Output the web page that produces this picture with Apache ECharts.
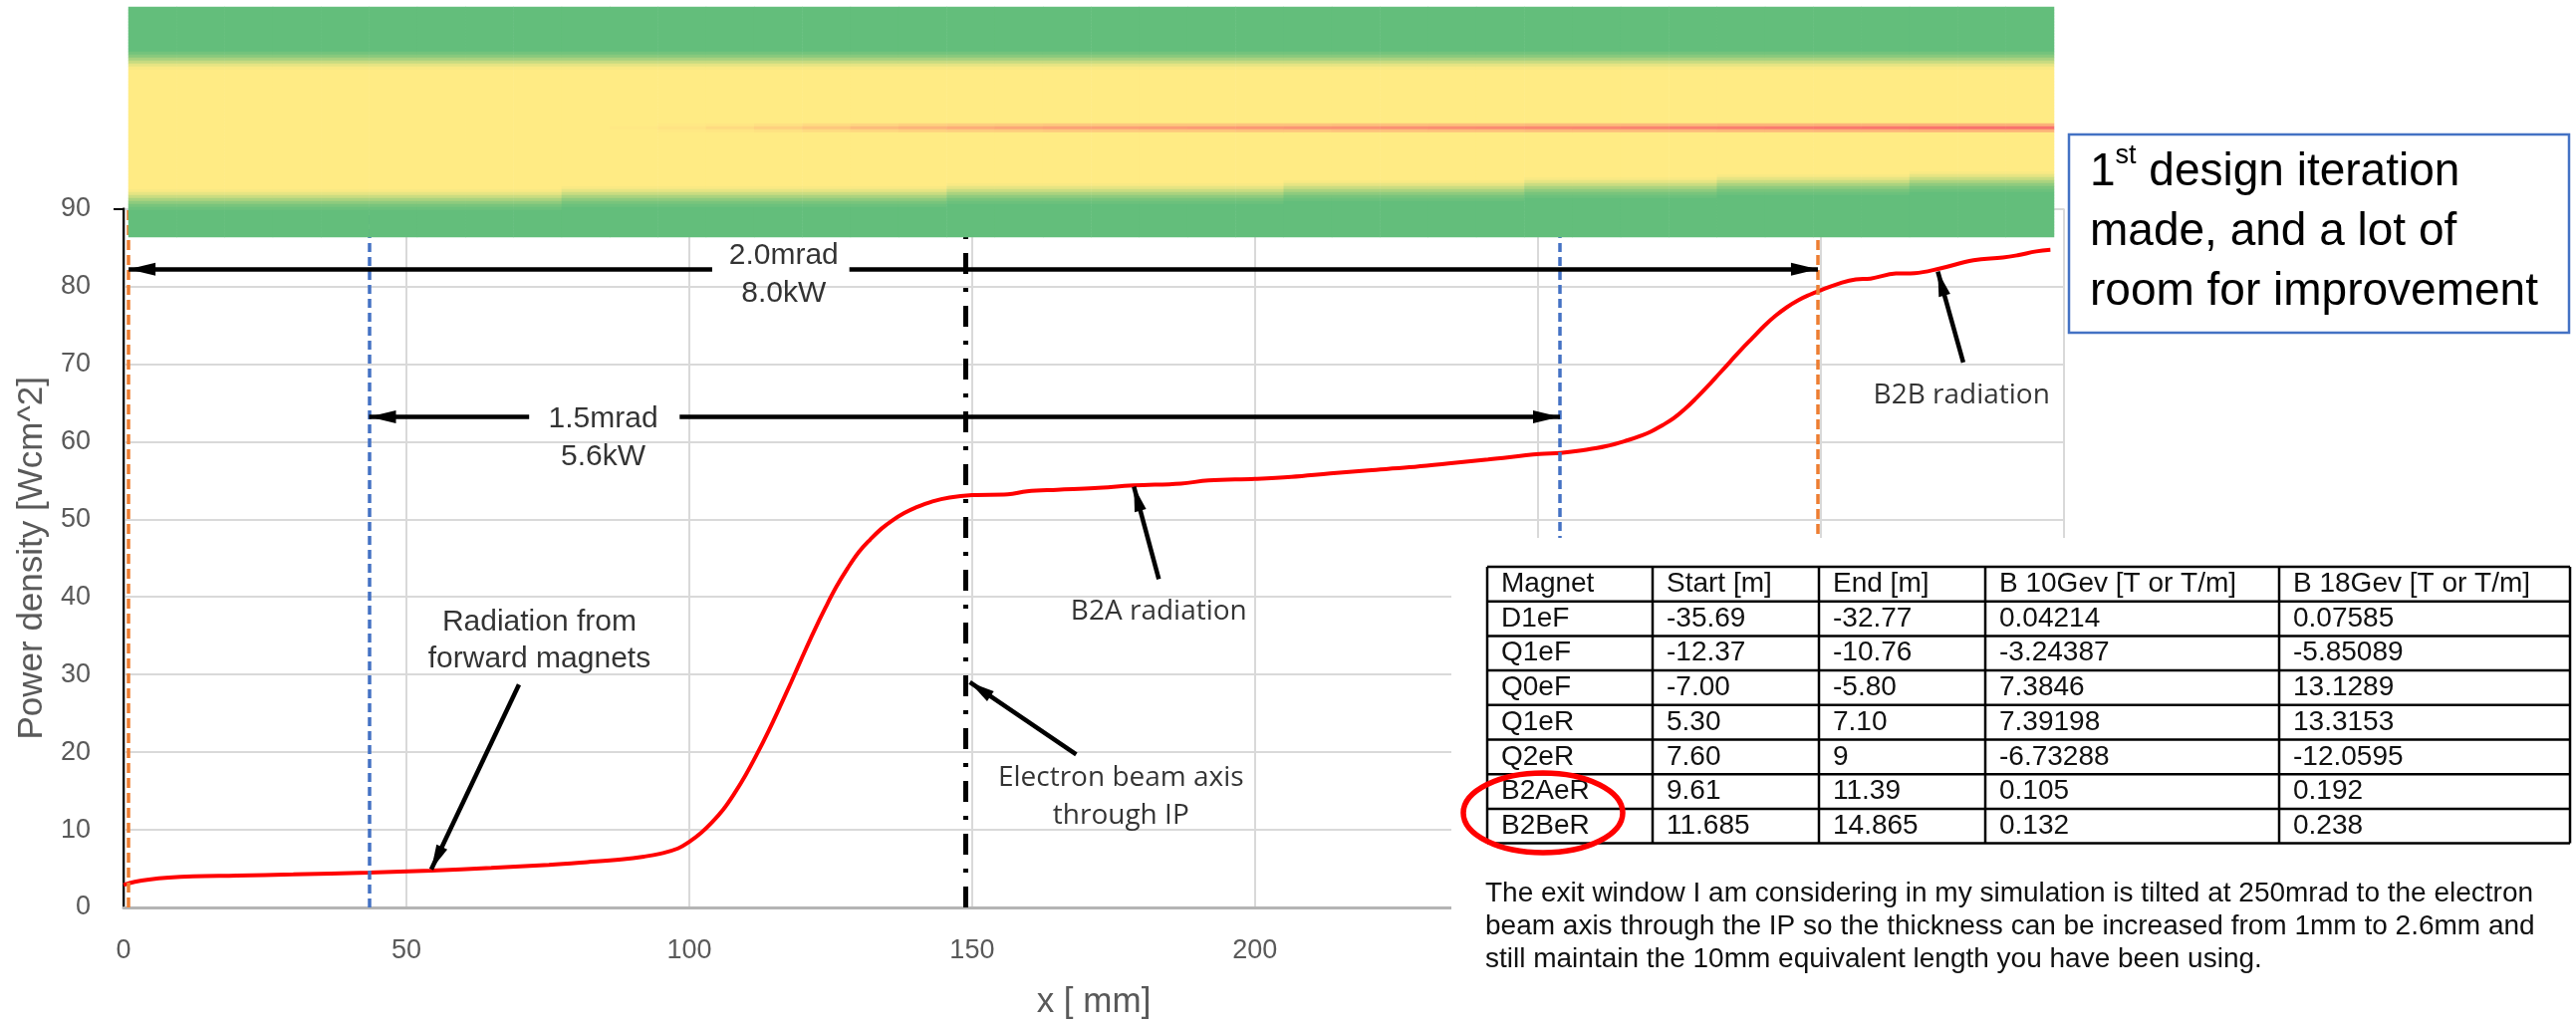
<!DOCTYPE html>
<html>
<head>
<meta charset="utf-8">
<script src="https://cdn.jsdelivr.net/npm/echarts@6/dist/echarts.min.js"></script>
<style>
html,body{margin:0;padding:0;background:#ffffff;}
#chart{width:2586px;height:1029px;}
</style>
</head>
<body>
<div id="chart"></div>
<script>
// ---------------- data ----------------
const xPositions = [0,2,4.5,8,12.3,20,30,43.4,54.4,65,75.2,82,88,92,95,98,100,102,104,106,108,110,112,114,116,118,120,122,124,126,128,130,132,134,136,138,140,143,146,150,156.3,159.7,165,171.6,178.5,186.9,191.8,200,206.4,213.3,220,227.3,234.2,241.2,250.3,254,258,262,266,268,270,272,274,276,278,280,282,284,286,288,290,292,294,296,298,300,303,306.2,308.8,313.3,316.6,321.1,327,332.2,334.8,338.1,340.6];
const powerDensity = [2.9,3.3,3.6,3.85,4.0,4.1,4.25,4.5,4.75,5.1,5.5,5.85,6.2,6.55,6.95,7.6,8.45,9.55,10.95,12.6,14.7,17.1,19.8,22.7,25.8,29.0,32.3,35.5,38.5,41.3,43.7,45.8,47.4,48.8,49.9,50.8,51.5,52.3,52.8,53.1,53.2,53.6,53.8,54.0,54.35,54.6,55.0,55.2,55.45,55.9,56.3,56.7,57.2,57.7,58.4,58.55,58.9,59.4,60.2,60.7,61.3,62.1,63.0,64.2,65.6,67.1,68.7,70.3,71.9,73.4,74.9,76.2,77.3,78.2,78.9,79.5,80.3,80.9,81.0,81.65,81.7,82.3,83.35,83.7,84.0,84.5,84.7];

// vertical guide lines (x in mm)
const guideLines = [
  {x: 0.9, kind: 'orange'},
  {x: 299.5, kind: 'orange'},
  {x: 43.4, kind: 'blue'},
  {x: 253.9, kind: 'blue'},
  {x: 148.9, kind: 'beam'}
];

// double-headed span arrows with text gap
const spanArrows = [
  {text: '2.0mrad\n8.0kW', y: 82.2, from: 0.9, to: 299.5, gapFrom: 104.05, gapTo: 128.3, textX: 116.7, textY: 81.5},
  {text: '1.5mrad\n5.6kW', y: 63.2, from: 43.4, to: 253.9, gapFrom: 71.7, gapTo: 98.3, textX: 84.8, textY: 60.4}
];

// pointer annotations
const pointerNotes = [
  {text: 'Radiation from\nforward magnets', font: 'calibri', textX: 73.5, textY: 34.4, from: [69.9, 28.7], to: [54.4, 4.9]},
  {text: 'B2A radiation', font: 'segoe', textX: 183.0, textY: 38.1, from: [183.0, 42.3], to: [178.6, 54.2]},
  {text: 'Electron beam axis\nthrough IP', font: 'segoe', textX: 176.3, textY: 14.3, from: [168.4, 19.7], to: [149.6, 29.0]},
  {text: 'B2B radiation', font: 'segoe', textX: 324.9, textY: 66.0, from: [325.2, 70.2], to: [320.7, 81.9]}
];

// heat-map strip: 0 = green, 0.5 = yellow, 1 = red
const HEAT_ROWS = 77;
const heatTopRamp = [0.05, 0.12, 0.22, 0.32, 0.42, 0.48];
const heatBottomRamp = [0.48, 0.42, 0.33, 0.23, 0.14, 0.07, 0.03];
const heatBottomStart = [61,61,61,61,61,61,61,61,61,60,60,60,60,60,60,60,60,59,59,59,59,59,59,59,58,58,58,58,58,57,57,57,57,56,56,56,56,55,55,55];
const heatLineCore = [0.5,0.5,0.5,0.5,0.5,0.5,0.5,0.5,0.5,0.5,0.51,0.53,0.56,0.6,0.64,0.68,0.71,0.74,0.76,0.78,0.79,0.8,0.81,0.82,0.83,0.84,0.85,0.86,0.87,0.88,0.89,0.9,0.91,0.92,0.93,0.94,0.95,0.96,0.97,0.97];
const heatLineGlow = [0.5,0.5,0.5,0.5,0.5,0.5,0.5,0.5,0.5,0.5,0.5,0.51,0.52,0.54,0.56,0.58,0.6,0.61,0.62,0.63,0.63,0.64,0.64,0.65,0.65,0.66,0.66,0.67,0.67,0.68,0.68,0.69,0.69,0.7,0.7,0.71,0.71,0.72,0.72,0.72];
const HEAT_TOP_START = 15;
const HEAT_LINE_ROW = 40;

// table + notes
const tableHeader = ['Magnet', 'Start [m]', 'End [m]', 'B 10Gev [T or T/m]', 'B 18Gev [T or T/m]'];
const tableRows = [
  ['D1eF', '-35.69', '-32.77', '0.04214', '0.07585'],
  ['Q1eF', '-12.37', '-10.76', '-3.24387', '-5.85089'],
  ['Q0eF', '-7.00', '-5.80', '7.3846', '13.1289'],
  ['Q1eR', '5.30', '7.10', '7.39198', '13.3153'],
  ['Q2eR', '7.60', '9', '-6.73288', '-12.0595'],
  ['B2AeR', '9.61', '11.39', '0.105', '0.192'],
  ['B2BeR', '11.685', '14.865', '0.132', '0.238']
];
const noteLines = [
  'The exit window I am considering in my simulation is tilted at 250mrad to the electron',
  'beam axis through the IP so the thickness can be increased from 1mm to 2.6mm and',
  'still maintain the 10mm equivalent length you have been using.'
];
const calloutText = '{n|1}{s|st}{n| design iteration}\n{n|made, and a lot of}\n{n|room for improvement}';

// ---------------- styling / layout ----------------
const F_CAL = 'Liberation Sans, Arial, sans-serif';
const F_SEG = 'Open Sans, Noto Sans, sans-serif';
const guideStyle = {
  orange: {color: '#ED7D31', width: 3.5, type: [10, 5]},
  blue: {color: '#4472C4', width: 3.5, type: [9, 5]},
  beam: {color: '#000000', width: 5, type: [21, 14, 4, 14]}
};

// heat data
const heatData = [];
for (let c = 0; c < heatLineCore.length; c++) {
  for (let r = 0; r < HEAT_ROWS; r++) {
    let v = 0;
    const bs = heatBottomStart[c];
    if (r >= HEAT_TOP_START && r < HEAT_TOP_START + heatTopRamp.length) v = heatTopRamp[r - HEAT_TOP_START];
    else if (r >= HEAT_TOP_START + heatTopRamp.length && r < bs) v = 0.5;
    else if (r >= bs && r < bs + heatBottomRamp.length) v = heatBottomRamp[r - bs];
    if (r === HEAT_LINE_ROW) v = heatLineCore[c];
    else if (r === HEAT_LINE_ROW - 1 || r === HEAT_LINE_ROW + 1) v = heatLineGlow[c];
    heatData.push([c, r, v]);
  }
}
const heatRowIdx = [];
for (let r = 0; r < HEAT_ROWS; r++) heatRowIdx.push(r);

// markLines
const arrowHead = (size) => ({symbol: 'triangle', symbolSize: size, symbolOffset: [0, '50%']});
const markLines = [];
guideLines.forEach(g => markLines.push({xAxis: g.x, lineStyle: guideStyle[g.kind], symbol: 'none'}));
spanArrows.forEach(a => {
  const ls = {color: '#000', width: 4.5, type: 'solid'};
  markLines.push([
    {coord: [a.gapFrom, a.y], symbol: 'none', lineStyle: ls},
    Object.assign({coord: [a.from, a.y], lineStyle: ls}, arrowHead([13, 27]))
  ]);
  markLines.push([
    {coord: [a.gapTo, a.y], symbol: 'none', lineStyle: ls},
    Object.assign({coord: [a.to, a.y], lineStyle: ls}, arrowHead([13, 27]))
  ]);
});
pointerNotes.forEach(p => {
  const ls = {color: '#000', width: 4.5, type: 'solid'};
  markLines.push([
    {coord: p.from, symbol: 'none', lineStyle: ls},
    Object.assign({coord: p.to, lineStyle: ls}, arrowHead([12, 25]))
  ]);
});

// annotation labels
const labelStyles = {
  calibri: {fontFamily: F_CAL, fontSize: 30, lineHeight: 37, color: '#000'},
  segoe: {fontFamily: F_SEG, fontSize: 28, lineHeight: 38, color: '#000'}
};
const annoData = [];
spanArrows.forEach(a => annoData.push({value: [a.textX, a.textY], name: a.text, label: Object.assign({}, labelStyles.calibri, {lineHeight: 38})}));
pointerNotes.forEach(p => annoData.push({value: [p.textX, p.textY], name: p.text, label: Object.assign({}, labelStyles[p.font])}));

// graphics (table, notes, callout)
const COL_EDGES = [1493, 1659, 1826, 1993, 2288, 2580];
const T_TOP = 569, T_ROW_H = 34.7;
const graphics = [];
graphics.push({type: 'rect', shape: {x: 1457, y: 540, width: 1129, height: 489}, style: {fill: '#ffffff'}, z: 50, silent: true});
const allRows = [tableHeader].concat(tableRows);
allRows.forEach((row, ri) => {
  row.forEach((cell, ci) => {
    graphics.push({type: 'text', x: COL_EDGES[ci] + 14, y: T_TOP + T_ROW_H * (ri + 0.5), z: 52, silent: true,
      style: {text: cell, fontFamily: F_CAL, fontSize: 28, fill: '#111', align: 'left', verticalAlign: 'middle'}});
  });
});
for (let i = 0; i <= allRows.length; i++) {
  const y = T_TOP + T_ROW_H * i;
  graphics.push({type: 'line', z: 53, silent: true, shape: {x1: COL_EDGES[0], y1: y, x2: COL_EDGES[COL_EDGES.length - 1], y2: y}, style: {stroke: '#000', lineWidth: 2.5}});
}
COL_EDGES.forEach(x => graphics.push({type: 'line', z: 53, silent: true, shape: {x1: x, y1: T_TOP, x2: x, y2: T_TOP + T_ROW_H * allRows.length}, style: {stroke: '#000', lineWidth: 2.5}}));
graphics.push({type: 'ellipse', z: 55, silent: true, shape: {cx: 1549, cy: 816, rx: 80, ry: 40}, style: {fill: 'none', stroke: '#FF0000', lineWidth: 5.5}});
graphics.push({type: 'text', x: 1491, y: 881, z: 52, silent: true,
  style: {text: noteLines.join('\n'), fontFamily: F_CAL, fontSize: 28, lineHeight: 33, fill: '#111', align: 'left', verticalAlign: 'top'}});
graphics.push({type: 'rect', z: 50, silent: true, shape: {x: 2077, y: 135, width: 502, height: 199}, style: {fill: '#ffffff', stroke: '#4472C4', lineWidth: 2.5}});
graphics.push({type: 'text', x: 2098, y: 143, z: 52, silent: true,
  style: {text: calloutText, align: 'left', verticalAlign: 'top',
    rich: {n: {fontFamily: F_CAL, fontSize: 46, lineHeight: 60, fill: '#000'},
           s: {fontFamily: F_CAL, fontSize: 27, lineHeight: 44, verticalAlign: 'top', fill: '#000'}}}});

// ---------------- chart ----------------
const chart = echarts.init(document.getElementById('chart'), null, {renderer: 'canvas'});
const tickLabel = {color: '#595959', fontSize: 27, fontFamily: F_CAL};
const option = {
  animation: false,
  backgroundColor: '#ffffff',
  grid: [
    {left: 124, right: 514, top: 209.5, bottom: 113},
    {left: 129, top: 7, width: 1933, height: 231}
  ],
  xAxis: [
    {type: 'value', gridIndex: 0, min: 0, max: 343, interval: 50,
      axisLine: {show: true, onZero: false, lineStyle: {color: '#B4B4B4', width: 3}},
      axisTick: {show: false},
      splitLine: {show: true, lineStyle: {color: '#D9D9D9', width: 2}},
      axisLabel: Object.assign({margin: 30, showMaxLabel: false}, tickLabel),
      name: 'x [ mm]', nameLocation: 'middle', nameGap: 78,
      nameTextStyle: {color: '#595959', fontSize: 35, fontFamily: F_CAL}},
    {type: 'category', gridIndex: 1, data: heatLineCore.map((v, i) => i), show: false}
  ],
  yAxis: [
    {type: 'value', gridIndex: 0, min: 0, max: 90, interval: 10,
      axisLine: {show: true, onZero: false, lineStyle: {color: '#B4B4B4', width: 3}},
      axisTick: {show: false},
      splitLine: {show: true, lineStyle: {color: '#D9D9D9', width: 2}},
      axisLabel: Object.assign({margin: 33}, tickLabel),
      name: 'Power density [Wcm^2]', nameLocation: 'middle', nameGap: 74,
      nameTextStyle: {color: '#595959', fontSize: 35, fontFamily: F_CAL}},
    {type: 'value', gridIndex: 0, position: 'right', min: 0, max: 90, interval: 10,
      axisLine: {show: true, lineStyle: {color: '#000', width: 2}},
      axisTick: {show: true, inside: true, length: 10, customValues: [90], lineStyle: {color: '#000', width: 2}},
      axisLabel: {show: false}, splitLine: {show: false}},
    {type: 'category', gridIndex: 1, inverse: true, data: heatRowIdx, show: false}
  ],
  visualMap: {type: 'continuous', show: false, seriesIndex: 0, dimension: 2, min: 0, max: 1,
    inRange: {color: ['#63BE7B', '#FFEB84', '#F8696B']}},
  series: [
    {type: 'heatmap', name: 'strip', xAxisIndex: 1, yAxisIndex: 2, data: heatData, z: 10, silent: true, progressive: 0,
      itemStyle: {borderWidth: 0}},
    {type: 'line', name: 'Power density', xAxisIndex: 0, yAxisIndex: 0,
      data: xPositions.map((x, i) => [x, powerDensity[i]]),
      symbol: 'none', showSymbol: false, smooth: 0.4, z: 3, silent: true,
      lineStyle: {color: '#FF0000', width: 4}},
    {type: 'line', name: 'guides', xAxisIndex: 0, yAxisIndex: 0, data: [], z: 4, silent: true,
      markLine: {silent: true, symbol: ['none', 'none'], label: {show: false}, animation: false, data: markLines}},
    {type: 'scatter', name: 'notes', xAxisIndex: 0, yAxisIndex: 0, symbolSize: 0, z: 5, silent: true,
      data: annoData,
      label: {show: true, position: 'inside', formatter: '{b}', align: 'center', verticalAlign: 'middle'}}
  ],
  graphic: graphics
};
chart.setOption(option);
</script>
</body>
</html>
